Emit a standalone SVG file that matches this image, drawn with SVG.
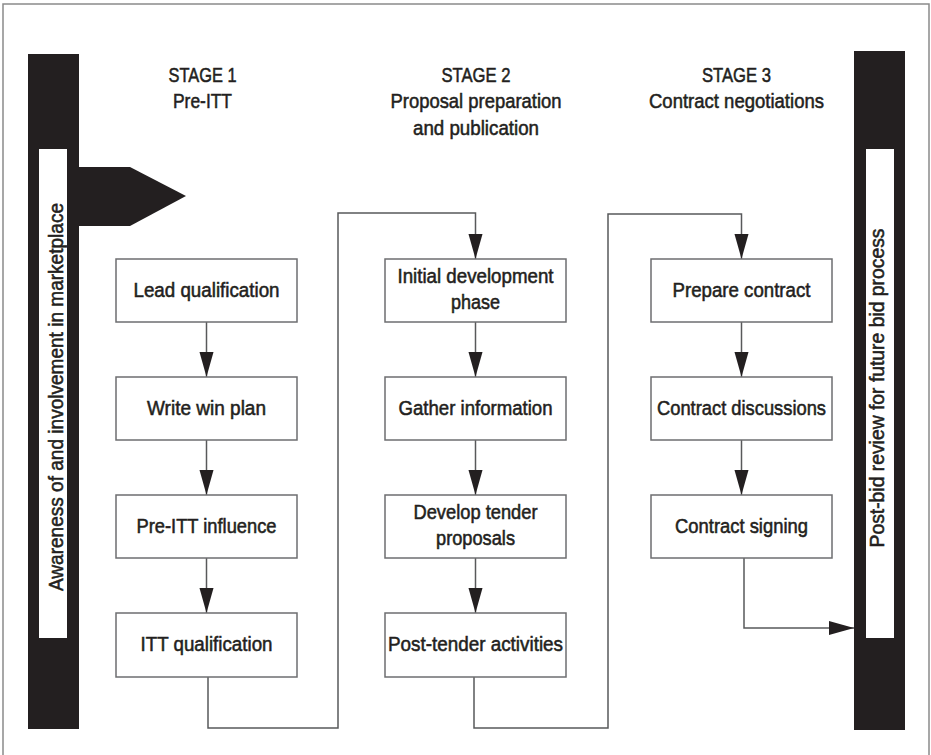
<svg xmlns="http://www.w3.org/2000/svg" width="931" height="755" viewBox="0 0 931 755">
<style>
text{font-family:"Liberation Sans Narrow","Liberation Sans",Arial,sans-serif;fill:#231f20;stroke:#231f20;stroke-width:0.55;text-anchor:middle}
.h{font-size:21px}
.t{font-size:20.5px}
.box{fill:#fff;stroke:#6d6e70;stroke-width:1.5}
.bar{fill:#231f20}
.strip{fill:#fff}
.con{fill:none;stroke:#58595b;stroke-width:1.5}
.frame{fill:none;stroke:#8a8a8a;stroke-width:1.5}
</style>
<defs>
<marker id="ah" markerUnits="userSpaceOnUse" markerWidth="26" markerHeight="16" refX="25" refY="7" orient="auto">
<path d="M0,0 L25,7 L0,14 Z" fill="#231f20"/>
</marker>
</defs>
<rect class="frame" x="3" y="4" width="926" height="800"/>

<g id="left-bar">
<rect class="bar" x="28" y="54" width="51" height="675"/>
<polygon class="bar" points="78,167 130,167 186,196 130,226 78,226"/>
<rect class="strip" x="39" y="149" width="28" height="489"/>
<text class="t" transform="translate(63,397) rotate(-90)" textLength="388" lengthAdjust="spacingAndGlyphs">Awareness of and involvement in marketplace</text>
</g>

<g id="right-bar">
<rect class="bar" x="854" y="51" width="51" height="679"/>
<rect class="strip" x="866" y="149" width="28" height="489"/>
<text class="t" transform="translate(884,388) rotate(-90)" textLength="319" lengthAdjust="spacingAndGlyphs">Post-bid review for future bid process</text>
</g>

<g id="stage1-header">
<text class="h" x="202.5" y="82" textLength="68" lengthAdjust="spacingAndGlyphs">STAGE 1</text>
<text class="h" x="202.5" y="108" textLength="59" lengthAdjust="spacingAndGlyphs">Pre-ITT</text>
</g>
<g id="stage2-header">
<text class="h" x="476" y="82" textLength="69" lengthAdjust="spacingAndGlyphs">STAGE 2</text>
<text class="h" x="476" y="108" textLength="171" lengthAdjust="spacingAndGlyphs">Proposal preparation</text>
<text class="h" x="476" y="135" textLength="126" lengthAdjust="spacingAndGlyphs">and publication</text>
</g>
<g id="stage3-header">
<text class="h" x="736.5" y="82" textLength="69" lengthAdjust="spacingAndGlyphs">STAGE 3</text>
<text class="h" x="736.5" y="108" textLength="175" lengthAdjust="spacingAndGlyphs">Contract negotiations</text>
</g>

<g id="connectors">
<line class="con" x1="206.5" y1="322" x2="206.5" y2="377" marker-end="url(#ah)"/>
<line class="con" x1="206.5" y1="440" x2="206.5" y2="495" marker-end="url(#ah)"/>
<line class="con" x1="206.5" y1="558" x2="206.5" y2="613" marker-end="url(#ah)"/>
<polyline class="con" points="208,677 208,728 338,728 338,213 475.5,213 475.5,259" marker-end="url(#ah)"/>
<line class="con" x1="475.5" y1="322" x2="475.5" y2="377" marker-end="url(#ah)"/>
<line class="con" x1="475.5" y1="440" x2="475.5" y2="495" marker-end="url(#ah)"/>
<line class="con" x1="475.5" y1="558" x2="475.5" y2="613" marker-end="url(#ah)"/>
<polyline class="con" points="474,677 474,728 608,728 608,214 741.5,214 741.5,259" marker-end="url(#ah)"/>
<line class="con" x1="741.5" y1="322" x2="741.5" y2="377" marker-end="url(#ah)"/>
<line class="con" x1="741.5" y1="440" x2="741.5" y2="495" marker-end="url(#ah)"/>
<polyline class="con" points="744,558 744,628 854,628" marker-end="url(#ah)"/>
</g>

<g id="lead-qualification">
<rect class="box" x="116" y="259" width="181" height="63"/>
<text class="t" x="206.5" y="297" textLength="146" lengthAdjust="spacingAndGlyphs">Lead qualification</text>
</g>
<g id="write-win-plan">
<rect class="box" x="116" y="377" width="181" height="63"/>
<text class="t" x="206.5" y="415" textLength="119" lengthAdjust="spacingAndGlyphs">Write win plan</text>
</g>
<g id="pre-itt-influence">
<rect class="box" x="116" y="495" width="181" height="63"/>
<text class="t" x="206.5" y="533" textLength="140" lengthAdjust="spacingAndGlyphs">Pre-ITT influence</text>
</g>
<g id="itt-qualification">
<rect class="box" x="116" y="613" width="181" height="64"/>
<text class="t" x="206.5" y="651" textLength="132" lengthAdjust="spacingAndGlyphs">ITT qualification</text>
</g>

<g id="initial-development">
<rect class="box" x="385" y="259" width="181" height="63"/>
<text class="t" x="475.5" y="283" textLength="156" lengthAdjust="spacingAndGlyphs">Initial development</text>
<text class="t" x="475.5" y="309" textLength="49" lengthAdjust="spacingAndGlyphs">phase</text>
</g>
<g id="gather-information">
<rect class="box" x="385" y="377" width="181" height="63"/>
<text class="t" x="475.5" y="415" textLength="154" lengthAdjust="spacingAndGlyphs">Gather information</text>
</g>
<g id="develop-tender-proposals">
<rect class="box" x="385" y="495" width="181" height="63"/>
<text class="t" x="475.5" y="519" textLength="124" lengthAdjust="spacingAndGlyphs">Develop tender</text>
<text class="t" x="475.5" y="545" textLength="79" lengthAdjust="spacingAndGlyphs">proposals</text>
</g>
<g id="post-tender-activities">
<rect class="box" x="385" y="613" width="181" height="64"/>
<text class="t" x="475.5" y="651" textLength="175" lengthAdjust="spacingAndGlyphs">Post-tender activities</text>
</g>

<g id="prepare-contract">
<rect class="box" x="651" y="259" width="181" height="63"/>
<text class="t" x="741.5" y="297" textLength="138" lengthAdjust="spacingAndGlyphs">Prepare contract</text>
</g>
<g id="contract-discussions">
<rect class="box" x="651" y="377" width="181" height="63"/>
<text class="t" x="741.5" y="415" textLength="169" lengthAdjust="spacingAndGlyphs">Contract discussions</text>
</g>
<g id="contract-signing">
<rect class="box" x="651" y="495" width="181" height="63"/>
<text class="t" x="741.5" y="533" textLength="133" lengthAdjust="spacingAndGlyphs">Contract signing</text>
</g>
</svg>
